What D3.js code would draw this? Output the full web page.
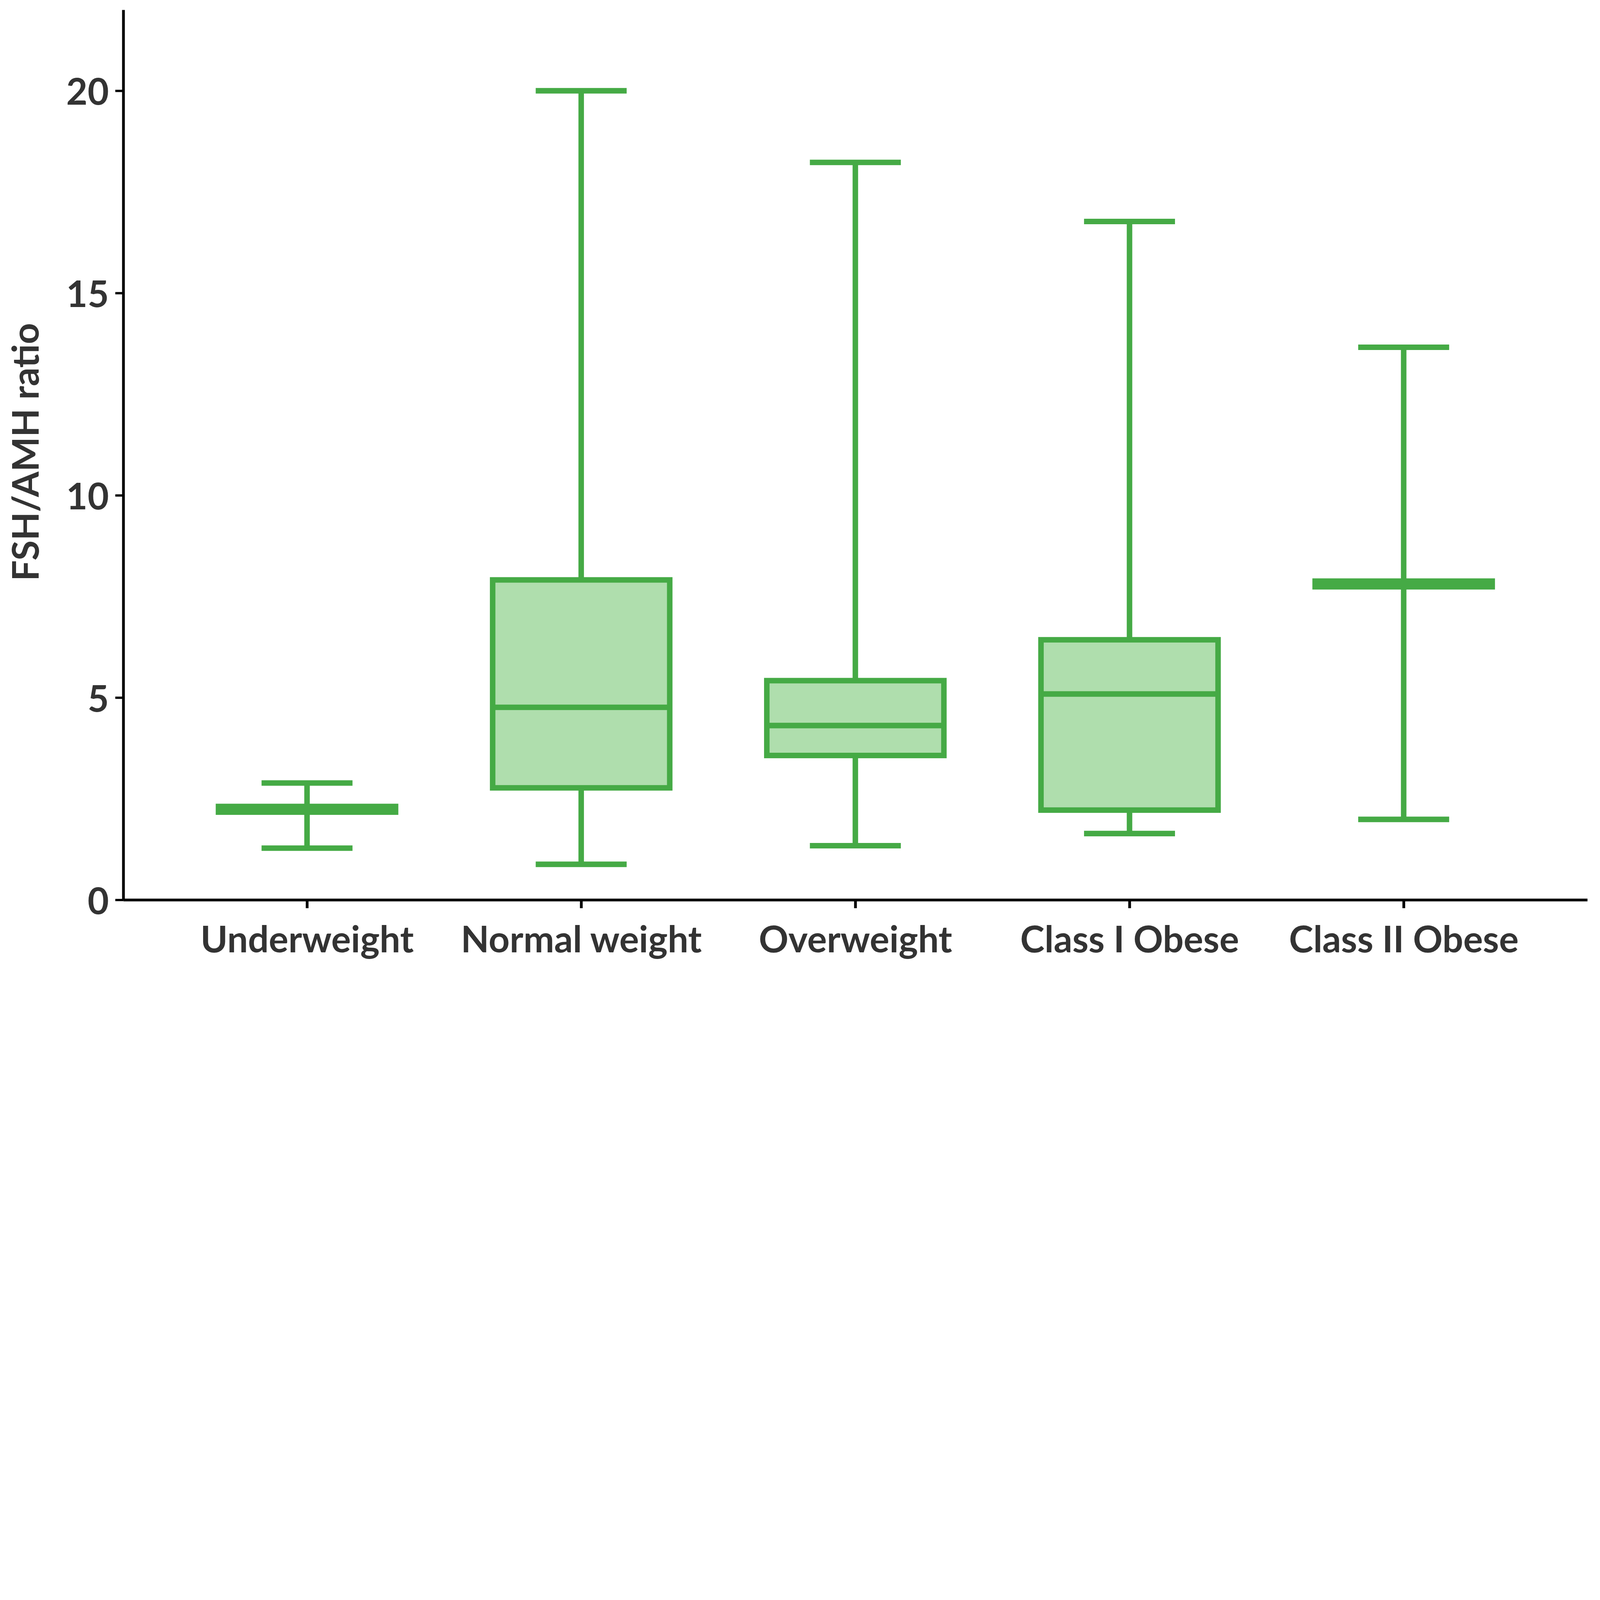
<!DOCTYPE html>
<html>
<head>
<meta charset="utf-8">
<script src="https://cdn.jsdelivr.net/npm/d3@7"></script>
<style>
  html, body { margin: 0; padding: 0; background: #fff; overflow: hidden; }
  #chart svg { display: block; width: 100vw; height: 100vh; }
  text { font-family: Lato, "Open Sans", sans-serif; font-weight: 700; fill: #333; }
</style>
</head>
<body>
<div id="chart"></div>
<script>
const categories = ["Underweight", "Normal weight", "Overweight", "Class I Obese", "Class II Obese"];
const mins    = [1.28, 0.88, 1.34, 1.64, 1.99];
const q1s     = [2.17, 2.77, 3.57, 2.22, 7.74];
const medians = [2.24, 4.76, 4.31, 5.09, 7.81];
const q3s     = [2.31, 7.91, 5.42, 6.43, 7.88];
const maxs    = [2.89, 20.0, 18.23, 16.77, 13.66];
const yTicks  = [0, 5, 10, 15, 20];
const yLabel  = "FSH/AMH ratio";

const width = 6966, height = 4202;
const stroke = "#45aa45", fill = "#afdead";
const boxW = 771, capW = 396, lw = 24;

// the window may be smaller than the chart, so scale the drawing to fit it
const svg = d3.select("#chart").append("svg")
  .attr("viewBox", [0, 0, width, height])
  .attr("preserveAspectRatio", "xMidYMin meet");

const x = d3.scalePoint().domain(categories).range([537, 6911]).padding(0.67);
const y = d3.scaleLinear().domain([0, 22]).range([3918, 43]);

const boxes = categories.map((c, i) => ({
  c, min: mins[i], q1: q1s[i], med: medians[i], q3: q3s[i], max: maxs[i]
}));

const g = svg.append("g").attr("class", "boxes");
const b = g.selectAll("g").data(boxes).join("g")
  .attr("transform", d => `translate(${x(d.c)},0)`);

// whiskers
b.append("line").attr("x1", 0).attr("x2", 0)
  .attr("y1", d => y(d.max)).attr("y2", d => y(d.q3))
  .attr("stroke", stroke).attr("stroke-width", lw);
b.append("line").attr("x1", 0).attr("x2", 0)
  .attr("y1", d => y(d.q1)).attr("y2", d => y(d.min))
  .attr("stroke", stroke).attr("stroke-width", lw);
// caps
["max", "min"].forEach(k => {
  b.append("line").attr("x1", -capW / 2).attr("x2", capW / 2)
    .attr("y1", d => y(d[k])).attr("y2", d => y(d[k]))
    .attr("stroke", stroke).attr("stroke-width", lw);
});
// box
b.append("rect")
  .attr("x", -boxW / 2).attr("width", boxW)
  .attr("y", d => y(d.q3)).attr("height", d => y(d.q1) - y(d.q3))
  .attr("fill", fill).attr("stroke", stroke).attr("stroke-width", lw);
// median
b.append("line").attr("x1", -boxW / 2).attr("x2", boxW / 2)
  .attr("y1", d => y(d.med)).attr("y2", d => y(d.med))
  .attr("stroke", stroke).attr("stroke-width", lw);

// axes
const yAxis = svg.append("g")
  .attr("transform", "translate(537,0)")
  .call(d3.axisLeft(y).tickValues(yTicks).tickSize(35).tickSizeOuter(0).tickPadding(28));
yAxis.select(".domain").attr("stroke", "#000").attr("stroke-width", 12);
yAxis.selectAll(".tick line").attr("stroke", "#000").attr("stroke-width", 10);
yAxis.selectAll(".tick text").attr("font-size", 160).attr("dy", "0.38em")
  .attr("fill", "#333").attr("font-family", null);

const xAxis = svg.append("g")
  .attr("transform", "translate(0,3918)")
  .call(d3.axisBottom(x).tickSize(36).tickSizeOuter(0).tickPadding(0));
xAxis.select(".domain").attr("stroke", "#000").attr("stroke-width", 12);
xAxis.selectAll(".tick line").attr("stroke", "#000").attr("stroke-width", 12);
xAxis.selectAll(".tick text").attr("font-size", 160).attr("y", 228).attr("dy", 0)
  .attr("fill", "#333").attr("font-family", null);

svg.append("text")
  .attr("transform", "translate(168,1968) rotate(-90)")
  .attr("text-anchor", "middle")
  .attr("font-size", 160)
  .text(yLabel);
</script>
</body>
</html>
